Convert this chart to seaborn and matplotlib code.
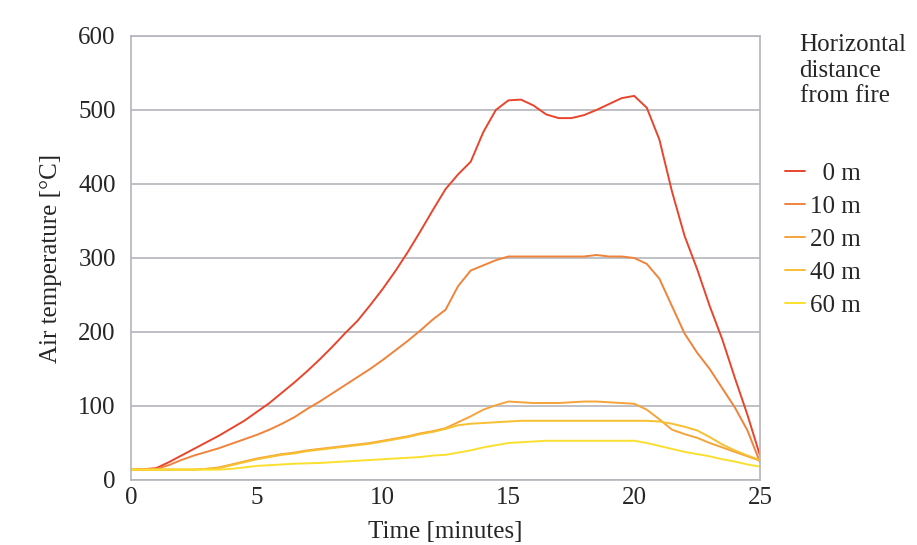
import numpy as np
import pandas as pd
import matplotlib
matplotlib.use("Agg")
import matplotlib.pyplot as plt
import seaborn as sns

time_min = [0, 0.5, 1, 1.5, 2, 2.5, 3, 3.5, 4, 4.5, 5, 5.5, 6, 6.5, 7, 7.5, 8, 8.5, 9, 9.5,
            10, 10.5, 11, 11.5, 12, 12.5, 13, 13.5, 14, 14.5, 15, 15.5, 16, 16.5, 17, 17.5,
            18, 18.5, 19, 19.5, 20, 20.5, 21, 21.5, 22, 22.5, 23, 23.5, 24, 24.5, 25]

temp_0m = [14, 14.5, 16, 24, 33, 42, 51, 60, 70, 80, 92, 104, 118, 132, 147, 163, 180, 198, 215, 236,
           258, 282, 308, 336, 365, 393, 413, 430, 470, 500, 513, 514, 506, 494, 489, 489,
           493, 500, 508, 516, 519, 503, 460, 390, 330, 285, 235, 190, 138, 88, 33]

temp_10m = [14, 14, 15, 20, 27, 33, 38, 43, 49, 55, 61, 68, 76, 85, 96, 106, 117, 128, 139, 150,
            162, 175, 188, 202, 217, 230, 262, 283, 290, 297, 302, 302, 302, 302, 302, 302,
            302, 304, 302, 302, 300, 292, 272, 235, 198, 172, 150, 124, 98, 67, 24]

temp_20m = [14, 14, 14, 14, 14, 14, 15, 17, 21, 25, 29, 32, 35, 37, 40, 42, 44, 46, 48, 50,
            53, 56, 59, 63, 66, 70, 78, 86, 95, 101, 106, 105, 104, 104, 104, 105,
            106, 106, 105, 104, 103, 95, 82, 68, 62, 57, 50, 44, 38, 32, 26]

temp_40m = [14, 14, 14, 14, 14, 14, 15, 16, 20, 24, 28, 31, 34, 36, 39, 41, 43, 45, 47, 49,
            52, 55, 58, 62, 65, 69, 74, 76, 77, 78, 79, 80, 80, 80, 80, 80,
            80, 80, 80, 80, 80, 80, 79, 76, 72, 67, 58, 48, 40, 33, 27]

temp_60m = [14, 14, 14, 14, 14, 14, 14, 14, 15, 17, 19, 20, 21, 22, 22.5, 23, 24, 25, 26, 27,
            28, 29, 30, 31, 33, 34, 37, 40, 44, 47, 50, 51, 52, 53, 53, 53,
            53, 53, 53, 53, 53, 50, 46, 42, 38, 35, 32, 28, 25, 21, 18]

series_labels = ["  0 m", "10 m", "20 m", "40 m", "60 m"]
series_values = [temp_0m, temp_10m, temp_20m, temp_40m, temp_60m]
series_colors = ["#e8452c", "#f0833a", "#f4a43a", "#f8c030", "#fbdf2e"]

x_ticks = [0, 5, 10, 15, 20, 25]
y_ticks = [0, 100, 200, 300, 400, 500, 600]

df = pd.concat([pd.DataFrame({"time": time_min, "temp": v, "dist": lab})
                for lab, v in zip(series_labels, series_values)], ignore_index=True)

sns.set_style("white")
plt.rcParams["font.family"] = ["Liberation Serif", "DejaVu Serif"]

FS = 18

fig = plt.figure(figsize=(9.17, 5.45), dpi=100)
ax = fig.add_axes([0.1429, 0.1193, 0.6859, 0.8147])

sns.lineplot(data=df, x="time", y="temp", hue="dist", hue_order=series_labels,
             palette=dict(zip(series_labels, series_colors)), linewidth=1.4,
             ax=ax, legend=True)

ax.set_xlim(0, 25)
ax.set_ylim(0, 600)
ax.set_xticks(x_ticks)
ax.set_yticks(y_ticks)
ax.yaxis.grid(True, color="#b4b4bc", linewidth=1.2)
ax.xaxis.grid(False)
for s in ax.spines.values():
    s.set_color("#b4b4bc")
    s.set_linewidth(1.2)
ax.tick_params(axis="y", length=5, color="#b4b4bc", labelsize=FS, pad=6)
ax.tick_params(axis="x", length=0, labelsize=FS, pad=5)
ax.set_xlabel("Time [minutes]", fontsize=FS, labelpad=9)
ax.set_ylabel("Air temperature [°C]", fontsize=FS, labelpad=12)

handles, labels = ax.get_legend_handles_labels()
leg = ax.legend(handles, labels, loc="upper left", bbox_to_anchor=(1.04, 0.715),
                frameon=False, fontsize=FS, handlelength=0.8, handletextpad=0.2,
                labelspacing=0.42, borderaxespad=0, borderpad=0)

fig.text(0.872, 0.938, "Horizontal\ndistance\nfrom fire", fontsize=FS, va="top", ha="left",
         linespacing=1.22)

fig.savefig("out.png", dpi=100)
